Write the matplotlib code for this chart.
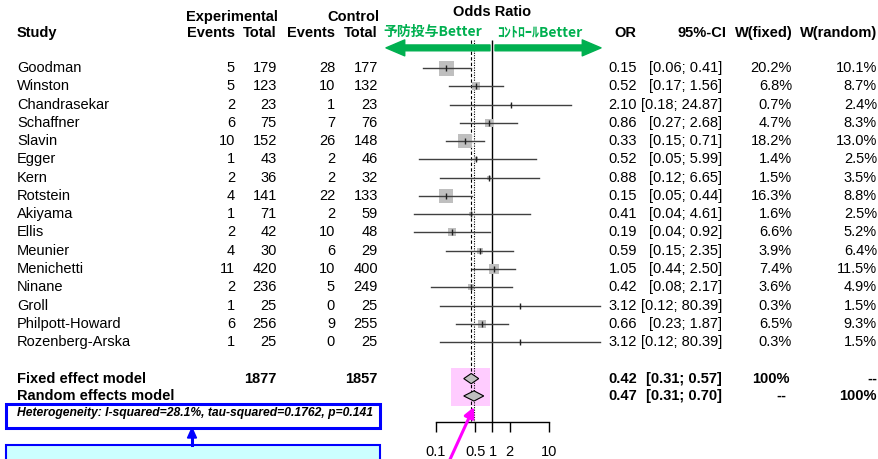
"""forest plot of odds ratios"""
import numpy as np
import matplotlib
matplotlib.use("Agg")
import matplotlib.pyplot as plt
from matplotlib.patches import Polygon, Rectangle
from matplotlib.transforms import blended_transform_factory

plt.rcParams['font.family'] = ['Liberation Sans', 'DejaVu Sans']

studies = ["Goodman", "Winston", "Chandrasekar", "Schaffner", "Slavin", "Egger", "Kern",
           "Rotstein", "Akiyama", "Ellis", "Meunier", "Menichetti", "Ninane", "Groll",
           "Philpott-Howard", "Rozenberg-Arska"]
exp_events = [5, 5, 2, 6, 10, 1, 2, 4, 1, 2, 4, 11, 2, 1, 6, 1]
exp_total = [179, 123, 23, 75, 152, 43, 36, 141, 71, 42, 30, 420, 236, 25, 256, 25]
ctl_events = [28, 10, 1, 7, 26, 2, 2, 22, 2, 10, 6, 10, 5, 0, 9, 0]
ctl_total = [177, 132, 23, 76, 148, 46, 32, 133, 59, 48, 29, 400, 249, 25, 255, 25]
odds_ratio = [0.15, 0.52, 2.10, 0.86, 0.33, 0.52, 0.88, 0.15, 0.41, 0.19, 0.59, 1.05, 0.42, 3.12, 0.66, 3.12]
ci_low = [0.06, 0.17, 0.18, 0.27, 0.15, 0.05, 0.12, 0.05, 0.04, 0.04, 0.15, 0.44, 0.08, 0.12, 0.23, 0.12]
ci_high = [0.41, 1.56, 24.87, 2.68, 0.71, 5.99, 6.65, 0.44, 4.61, 0.92, 2.35, 2.50, 2.17, 80.39, 1.87, 80.39]
w_fixed = [20.2, 6.8, 0.7, 4.7, 18.2, 1.4, 1.5, 16.3, 1.6, 6.6, 3.9, 7.4, 3.6, 0.3, 6.5, 0.3]
w_random = [10.1, 8.7, 2.4, 8.3, 13.0, 2.5, 3.5, 8.8, 2.5, 5.2, 6.4, 11.5, 4.9, 1.5, 9.3, 1.5]

fixed_or, fixed_lo, fixed_hi = 0.42, 0.31, 0.57
random_or, random_lo, random_hi = 0.47, 0.31, 0.70
exp_sum, ctl_sum = 1877, 1857
hetero_text = "Heterogeneity: I-squared=28.1%, tau-squared=0.1762, p=0.141"
axis_ticks = [0.1, 0.5, 1, 2, 10]
axis_labels = ["0.1", "0.5", "1", "2", "10"]

W, H = 879, 459
fig = plt.figure(figsize=(W / 100, H / 100), dpi=100)

# forest panel: log x, one unit per study row, spans full height
ax = fig.add_axes([380 / W, 0, 225 / W, 1])
ax.set_xscale("log")
ax.set_xlim(10 ** -1.991, 10 ** 1.991)
ax.set_ylim(21.4, -3.72)
ax.axis("off")

trans = blended_transform_factory(fig.transFigure, ax.transData)
fs = 10.5
green = "#00b050"

def put(px, y, s, ha="right", **kw):
    ax.text(px / W, y, s, transform=trans, ha=ha, va="center", fontsize=fs, **kw)

# headers
put(278, -2.79, "Experimental", weight="bold")
put(379, -2.79, "Control", weight="bold")
put(17, -1.92, "Study", ha="left", weight="bold")
put(235, -1.92, "Events", weight="bold")
put(277, -1.92, "Total", weight="bold")
put(335, -1.92, "Events", weight="bold")
put(378, -1.92, "Total", weight="bold")
put(636, -1.92, "OR", weight="bold")
put(727, -1.92, "95%-CI", weight="bold")
put(793, -1.92, "W(fixed)", weight="bold")
put(877, -1.92, "W(random)", weight="bold")
ax.text(1, -3.07, "Odds Ratio", ha="center", va="center", fontsize=fs, weight="bold")

# better / worse labels and arrows
ax.text(383 / W, -1.97, "予防投与Better", transform=trans, ha="left", va="center",
        fontsize=10, color=green, weight="bold", family=["Noto Sans CJK JP", "DejaVu Sans"])
ax.text(497 / W, -1.97, "ｺﾝﾄﾛｰﾙBetter", transform=trans, ha="left", va="center",
        fontsize=10, color=green, weight="bold", family=["Noto Sans CJK JP", "DejaVu Sans"])
arrow_style = "simple,head_length=1.35,head_width=1.15,tail_width=0.42"
ax.annotate("", xy=(10 ** ((386 - 492.5) / 56.5), -1.1), xytext=(10 ** ((490 - 492.5) / 56.5), -1.1),
            arrowprops=dict(arrowstyle=arrow_style, mutation_scale=10, color=green,
                            shrinkA=0, shrinkB=0))
ax.annotate("", xy=(10 ** ((601 - 492.5) / 56.5), -1.1), xytext=(10 ** ((495 - 492.5) / 56.5), -1.1),
            arrowprops=dict(arrowstyle=arrow_style, mutation_scale=10, color=green,
                            shrinkA=0, shrinkB=0))

# highlight behind summary diamonds
ax.add_patch(Rectangle((0.184, 16.42), 0.903 - 0.184, 2.08, facecolor="#ffccff",
                       edgecolor="none", zorder=0))

# reference lines
axis_y = 19.38
ax.vlines(1, -1.53, axis_y, color="black", lw=1)
ax.vlines(fixed_or, -1.53, axis_y, color="black", lw=0.8, linestyles=(0, (3, 2)))
ax.vlines(random_or, -1.53, axis_y, color="black", lw=0.8, linestyles=(0, (1, 1.2)))

# study rows
rows = np.arange(len(studies))
for i in rows:
    side = 15 * np.sqrt(w_fixed[i] / 20.2) * 0.72
    ax.plot(odds_ratio[i], i, marker="s", markersize=side, color="#bfbfbf",
            markeredgewidth=0, zorder=2)
    ax.plot([ci_low[i], ci_high[i]], [i, i], color="#404040", lw=1, zorder=3)
    ax.plot(odds_ratio[i], i, marker="|", markersize=4, color="#202020",
            markeredgewidth=1, zorder=4)
    put(17, i, studies[i], ha="left")
    put(235, i, str(exp_events[i]))
    put(277, i, str(exp_total[i]))
    put(335, i, str(ctl_events[i]))
    put(378, i, str(ctl_total[i]))
    put(637, i, "%.2f" % odds_ratio[i])
    put(722, i, "[%.2f; %.2f]" % (ci_low[i], ci_high[i]))
    put(792, i, "%.1f%%" % w_fixed[i])
    put(877, i, "%.1f%%" % w_random[i])

# summary rows
fy, ry = 17.0, 17.95
for y, est, lo, hi in [(fy, fixed_or, fixed_lo, fixed_hi), (ry, random_or, random_lo, random_hi)]:
    ax.add_patch(Polygon([(lo, y), (est, y - 0.28), (hi, y), (est, y + 0.28)],
                         closed=True, facecolor="#bfbfbf", edgecolor="black", lw=0.8, zorder=3))
put(17, fy, "Fixed effect model", ha="left", weight="bold")
put(277, fy, str(exp_sum), weight="bold")
put(378, fy, str(ctl_sum), weight="bold")
put(637, fy, "%.2f" % fixed_or, weight="bold")
put(722, fy, "[%.2f; %.2f]" % (fixed_lo, fixed_hi), weight="bold")
put(790, fy, "100%", weight="bold")
put(877, fy, "--", weight="bold")
put(17, ry, "Random effects model", ha="left", weight="bold")
put(637, ry, "%.2f" % random_or, weight="bold")
put(722, ry, "[%.2f; %.2f]" % (random_lo, random_hi), weight="bold")
put(786, ry, "--", weight="bold")
put(877, ry, "100%", weight="bold")

# bottom axis
ax.plot([axis_ticks[0], axis_ticks[-1]], [axis_y, axis_y], color="black", lw=1)
ax.vlines(axis_ticks, axis_y, axis_y + 0.55, color="black", lw=1)
for t, lab in zip(axis_ticks, axis_labels):
    ax.text(t, 21.02, lab, ha="center", va="center", fontsize=fs)

# heterogeneity box and annotations
fig.patches.append(Rectangle((6 / W, 1 - 428 / H), 374 / W, 24 / H, transform=fig.transFigure,
                             facecolor="white", edgecolor="#0000ff", lw=2.2, zorder=1))
fig.patches.append(Rectangle((6 / W, -0.05), 374 / W, 1 - 445 / H + 0.05, transform=fig.transFigure,
                             facecolor="#ccffff", edgecolor="#0000ff", lw=1.5, zorder=1))
fig.text(17 / W, 1 - 413 / H, hetero_text, ha="left", va="center", fontsize=8.7,
         weight="bold", style="italic")
fig.patches.append(plt.Polygon([[192 / W, 1 - 428 / H], [187.5 / W, 1 - 438 / H], [196.5 / W, 1 - 438 / H]],
                               closed=True, transform=fig.transFigure, color="#0000ff"))
fig.add_artist(plt.Line2D([192 / W, 192 / W], [1 - 436 / H, 1 - 445 / H], transform=fig.transFigure,
                          color="#0000ff", lw=2.2))
ax.annotate("", xy=(random_or, 18.55), xytext=(446 / W, -0.02), textcoords="figure fraction",
            arrowprops=dict(arrowstyle="-|>,head_length=0.6,head_width=0.3", color="#ff00ff",
                            lw=2.2, shrinkA=0, shrinkB=0, mutation_scale=10))

fig.savefig("out.png", dpi=100)
